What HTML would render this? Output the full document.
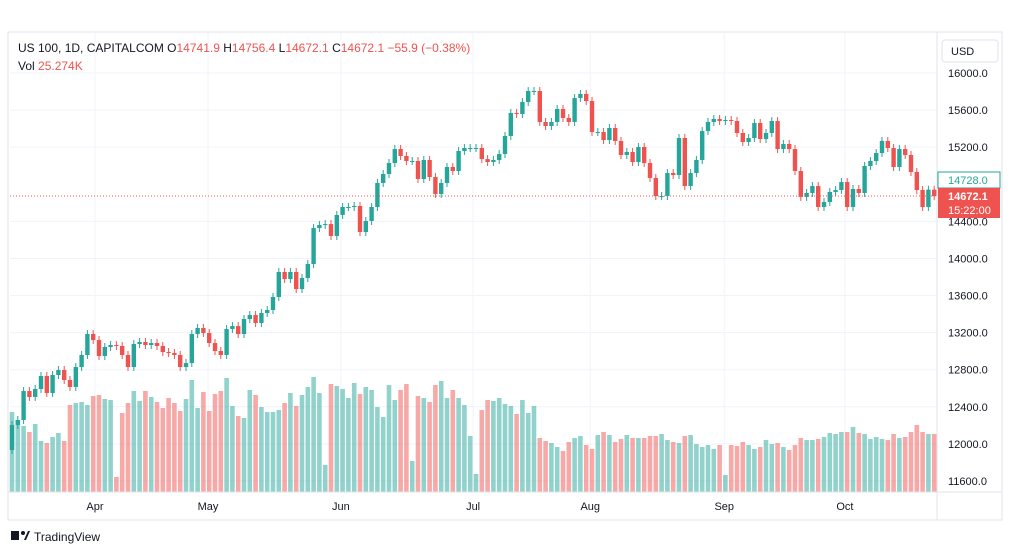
<!DOCTYPE html>
<html><head><meta charset="utf-8"><style>
body{margin:0;background:#fff;width:1012px;height:555px;overflow:hidden;font-family:"Liberation Sans",sans-serif}
svg text{font-family:"Liberation Sans",sans-serif}
</style></head><body>
<svg id="c" width="1012" height="555" xmlns="http://www.w3.org/2000/svg">
<rect x="8" y="32" width="994" height="488" fill="#fff" stroke="#e0e3eb"/>
<g id="grid"></g><g id="vol"></g><g id="candles"></g>
<line x1="10" y1="196" x2="937" y2="196" stroke="#ef5350" stroke-dasharray="1,2"/>
<line x1="937" y1="32" x2="937" y2="520" stroke="#e0e3eb"/>
<line x1="8" y1="492" x2="1002" y2="492" stroke="#e0e3eb"/>
<g id="yaxis"></g><g id="xaxis"></g>
<rect x="942" y="40" width="56" height="22" rx="3" fill="#fff" stroke="#e0e3eb"/>
<text x="951" y="55" font-size="11" fill="#131722">USD</text>
<rect x="938" y="172" width="62" height="16" fill="#fff" stroke="#26a69a"/>
<text x="948" y="184" font-size="11" fill="#26a69a">14728.0</text>
<rect x="938" y="188" width="62" height="30" fill="#ef5350"/>
<text x="948" y="200" font-size="11" font-weight="bold" fill="#fff">14672.1</text>
<text x="948" y="214" font-size="11" fill="#fff">15:22:00</text>
<text x="18" y="52" font-size="12" fill="#131722">US 100, 1D, CAPITALCOM  <tspan>O</tspan><tspan fill="#ef5350">14741.9</tspan>  <tspan>H</tspan><tspan fill="#ef5350">14756.4</tspan>  <tspan>L</tspan><tspan fill="#ef5350">14672.1</tspan>  <tspan>C</tspan><tspan fill="#ef5350">14672.1</tspan>  <tspan fill="#ef5350">−55.9 (−0.38%)</tspan></text>
<text x="18" y="70" font-size="12" fill="#131722">Vol  <tspan fill="#ef5350">25.274K</tspan></text>
<g>
<rect x="11" y="531" width="8" height="9" fill="#131722"/><circle cx="23" cy="533" r="2" fill="#131722"/><path d="M24 540 L28 531 L30 531 L26 540Z" fill="#131722"/>
<text x="34" y="541" font-size="12" fill="#131722">TradingView</text></g>
</svg>
<script>
const firstOpen = 11934;
const closes = [12204,12258,12570,12506,12592,12732,12549,12743,12797,12689,12614,12829,12959,13185,13120,12948,13045,13066,13056,12959,12829,13077,13099,13066,13088,13056,12991,12980,12959,12829,12872,13185,13250,13196,13088,13002,12959,13239,13271,13185,13347,13390,13304,13412,13444,13584,13854,13778,13854,13670,13789,13940,
14328,14361,14371,14242,14469,14555,14555,14566,14285,14404,14555,14814,14911,15029,15180,15105,15051,15051,14857,15062,14878,14695,14814,14986,14943,15159,15191,15191,15191,15072,15040,15062,15126,15321,15569,15558,15687,15806,15806,15472,15428,15472,15612,15515,15472,15730,15774,15698,15364,15364,15277,15407,15267,15116,
15148,15040,15202,15029,14868,14673,14673,14921,14900,15299,14781,14921,15062,15374,15472,15504,15482,15493,15482,15353,15256,15299,15461,15288,15353,15482,15180,15234,15180,14943,14663,14706,14781,14555,14609,14717,14738,14824,14555,14749,14706,14997,15051,15137,15267,15191,14986,15180,15116,14932,14738,14555,14742,14672];
const volumes = [80,72,66,60,68,51,49,55,59,51,87,89,90,87,96,97,93,92,15,79,89,101,91,101,95,90,84,94,89,81,93,112,84,100,81,98,101,114,86,76,74,102,97,85,80,80,82,89,99,86,97,105,115,99,27,
108,106,103,94,109,98,105,102,85,75,107,92,102,108,31,96,94,90,107,111,94,102,94,87,56,18,82,92,91,94,88,86,78,92,79,86,54,51,49,45,41,50,54,56,47,43,57,60,57,50,53,
57,54,54,54,56,56,58,52,50,49,56,57,48,45,47,43,47,17,47,46,50,47,43,45,52,48,49,45,42,47,54,52,52,53,55,59,58,60,60,65,59,58,53,55,53,52,58,54,55,60,67,60,58,58];
const priceTicks = [16000,15600,15200,14400,14000,13600,13200,12800,12400,12000,11600];
const monthLabels = ["Apr","May","Jun","Jul","Aug","Sep","Oct"];
const monthIdx = [14.3,33.8,56.7,79.5,99.7,122.8,143.6];
const NS="http://www.w3.org/2000/svg";
const yP = p => 73 + (16000-p)/400*37.09;
const xI = i => 12 + i*5.8;
const yV = v => 492 - v;
function mk(t,a,parent){const e=document.createElementNS(NS,t);for(const k in a)e.setAttribute(k,a[k]);document.getElementById(parent).appendChild(e);return e;}
priceTicks.forEach(p=>{
  const l=mk('line',{x1:10,x2:937,y1:yP(p),y2:yP(p),stroke:'#f0f3fa'},'grid');
  
  
  const t=mk('text',{x:948,y:yP(p)+4,'font-size':11,fill:'#131722'},'yaxis');
  t.textContent=p.toFixed(1);
  
  
});
monthLabels.forEach((m,k)=>{
  const x=xI(monthIdx[k]);
  const l=mk('line',{x1:x,x2:x,y1:33,y2:492,stroke:'#f0f3fa'},'grid');
  
  
  const t=mk('text',{x:x,y:510,'font-size':11,fill:'#131722','text-anchor':'middle'},'xaxis');
  t.textContent=m;
  
  
});
closes.forEach((c,i)=>{
  const o = i===0?firstOpen:closes[i-1];
  const up = c>=o, col = up?'#26a69a':'#ef5350';
  const x=xI(i), y1=yP(Math.max(o,c)), y2=yP(Math.min(o,c));
  const w=mk('line',{x1:x,x2:x,y1:y1-4,y2:y2+4,stroke:col,'stroke-width':1},'candles');
  
  
  const b=mk('rect',{x:x-2.2,y:y1,width:4.4,height:Math.max(1,y2-y1),fill:col},'candles');
  
  
  if(i<volumes.length){
    const v=mk('rect',{x:x-2.3,y:yV(volumes[i]),width:4.6,height:volumes[i],fill:up?'rgba(38,166,154,0.5)':'rgba(239,83,80,0.5)'},'vol');
    
    
  }
});
</script>
</body></html>
